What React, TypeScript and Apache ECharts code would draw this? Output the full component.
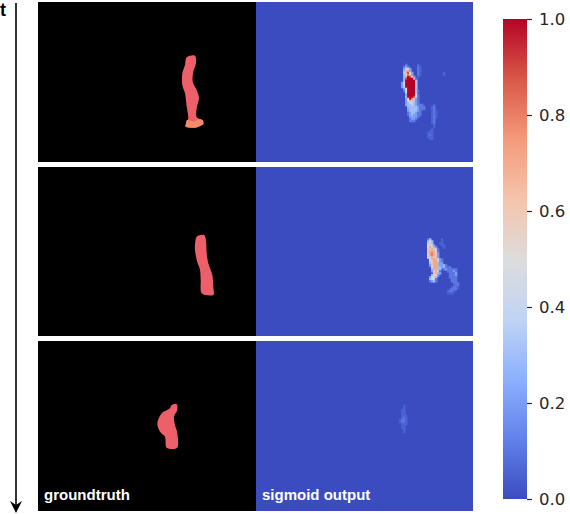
import React, { useEffect, useRef } from "react";
import * as echarts from "echarts";

const coolwarmStops = ["#3b4cc0", "#6282ea", "#8db0fe", "#c0d4f5", "#dddcdc", "#f5c4ac", "#f49a7b", "#d95847", "#b40426"];
const tickLabelFont = "DejaVu Sans";
const panelHeights = [160, 169, 170];
const panelTops = [2, 167, 341];
const panelWidth = 217;

const truthShape1 = [[157,53.7],[148.7,55.3],[147,63],[144.3,71.3],[144.3,83],[147,91.3],[148.7,104.7],[150.3,116.3],[148,121.3],[147.7,124.7],[157,125.7],[165.3,122],[164.3,118],[158.7,115.3],[158.7,106],[161,96.3],[158.7,88],[154.7,79.7],[155.3,69.7],[158,61.3]];
const truthFoot1 = [[149,118],[156,119.5],[160,117.5],[164.3,118],[165.3,122],[157,125.7],[147.7,124.7],[148,121.3]];
const truthShape2 = [[157,78],[158.7,69.7],[166,68],[168,73],[168.7,86.3],[170.3,96.3],[174.3,108],[175.3,119.7],[175.3,128],[163.7,126.3],[162.7,113],[162,103],[158.7,93],[157,83]];
const truthShape3 = [[133.7,64],[138.7,63.3],[139.3,69],[136,75.7],[137,84],[139.3,92],[139.3,106.7],[128.7,106.7],[127,95.7],[122,90.7],[119.3,82.3],[123.7,72.3],[132,67.3]];

// Sigmoid output cells: "." none, ":" 0.05, digits value*10, "a" 1.0
const sigmoid1 = { col: 71, row: 31, rows: [
  "....1.....:",
  "...121....1:",
  "...2442...1:",
  "...3772...1:",
  "...47952..1:...........:",
  "...36862..1:...........:",
  "...37a962.:",
  "...39aaa71",
  "...3aaaaa3",
  "..24aaaaa3",
  "..24aaaaa3",
  "..24aaaaa3",
  "...25aaaa3",
  "...15aaaa31",
  "....4aaaa3",
  "....2aaaa41",
  "....3aaa941",
  "....26a8521",
  "....2576321",
  "....2344321",
  "....233432111.....:",
  ".....333332111...:1",
  ".....233332111...:1",
  ".....2333321.....:1:",
  ".....1233211.....:1:",
  ".....1232211.....:1:",
  "......22221......:1:",
  "......1221.......:1",
  "......111........:1",
  ".................:1",
  "..................:",
  "..................:",
  ".................:",
  "................::",
  "...............:::",
  "...............:1:",
  "...............:::",
  "................::",
] };
const sigmoid2 = { col: 84, row: 36, rows: [
  "..13.....:",
  "..353....:",
  "..463...::",
  "..5642...::",
  "..57632...:",
  "..667641",
  "..677751",
  "..678762",
  "..578762",
  "..467662",
  "...5777521..",
  "...4677421",
  "...3677322",
  "...267732231",
  "....5773323111",
  "....37733.1211111",
  "....26741...11121",
  ".....6732....1112",
  "....3652.....1112",
  "...2563......1111",
  "...3441.......111",
  "...1231.......111",
  "...............111",
  "...............:11",
  "..............:11:",
  ".............:111",
  "............:11:",
  "............:::",
] };
const sigmoid3 = { col: 71, row: 32, rows: [
  "...:",
  "...:",
  "..::",
  "..::",
  "..::",
  "..:::",
  "..:1:",
  ".:11:",
  ".:11:",
  "..:::",
  "..::",
  "..::",
  "...:",
  "...:",
] };
const sigmoidBlocks = [sigmoid1, sigmoid2, sigmoid3];

const colorbarTicks = [0, 0.2, 0.4, 0.6, 0.8, 1];

const toCells = (block: { col: number; row: number; rows: string[] }) => {
  const out: number[][] = [];
  block.rows.forEach((line, r) => {
    line.split("").forEach((ch, c) => {
      if (ch === "." || ch === " ") return;
      const value = ch === ":" ? 0.05 : ch === "a" ? 1 : Number(ch) / 10;
      out.push([block.col + c, block.row + r, value]);
    });
  });
  return out;
};

const polygonSeries = (points: number[][], color: string, axisIndex: number) => ({
  type: "custom",
  xAxisIndex: axisIndex,
  yAxisIndex: axisIndex,
  silent: true,
  data: points,
  encode: { x: 0, y: 1 },
  renderItem: (params: any, api: any) =>
    params.dataIndex === 0
      ? { type: "polygon", shape: { points: points.map((p) => api.coord(p)), smooth: 0.3 }, style: { fill: color } }
      : null,
});

const range = (n: number) => Array.from({ length: n }, (_, i) => String(i));

export default function App() {
  const ref = useRef<HTMLDivElement>(null);
  useEffect(() => {
    document.body.style.margin = "0";
    const chart = echarts.init(ref.current!, null, { renderer: "svg" });
    const grids: any[] = [];
    const xAxes: any[] = [];
    const yAxes: any[] = [];
    const series: any[] = [];
    const heatSeriesIndex: number[] = [];
    panelHeights.forEach((h, i) => {
      grids.push({ left: 38, top: panelTops[i], width: 218, height: h, show: true, backgroundColor: "#000000", borderWidth: 0 });
      xAxes.push({ type: "value", gridIndex: grids.length - 1, min: 0, max: 218, show: false });
      yAxes.push({ type: "value", gridIndex: grids.length - 1, min: 0, max: h, inverse: true, show: false });
      grids.push({ left: 256, top: panelTops[i], width: panelWidth, height: h, show: true, backgroundColor: "#3b4cc0", borderWidth: 0 });
      xAxes.push({ type: "category", gridIndex: grids.length - 1, data: range(109), show: false });
      yAxes.push({ type: "category", gridIndex: grids.length - 1, data: range(Math.ceil(h / 2)), inverse: true, show: false });
    });
    series.push(polygonSeries(truthShape1, "#ee6069", 0));
    series.push(polygonSeries(truthFoot1, "#f58b69", 0));
    series.push(polygonSeries(truthShape2, "#ee6069", 2));
    series.push(polygonSeries(truthShape3, "#ee6069", 4));
    sigmoidBlocks.forEach((b, i) => {
      heatSeriesIndex.push(series.length);
      series.push({
        type: "heatmap",
        xAxisIndex: 2 * i + 1,
        yAxisIndex: 2 * i + 1,
        data: toCells(b),
        silent: true,
        progressive: 0,
        itemStyle: { borderWidth: 0 },
      });
    });
    grids.push({ left: 503, top: 19, width: 24, height: 480, show: false });
    xAxes.push({ type: "category", gridIndex: 6, data: ["scale"], show: false });
    yAxes.push({
      type: "value",
      gridIndex: 6,
      position: "right",
      min: 0,
      max: 1,
      interval: 0.2,
      splitLine: { show: false },
      axisLine: { show: false },
      axisTick: { show: true, length: 5, lineStyle: { color: "#262626", width: 1.2 } },
      axisLabel: {
        margin: 12,
        fontFamily: tickLabelFont,
        fontSize: 16.5,
        color: "#262626",
        customValues: colorbarTicks,
        formatter: (v: number) => v.toFixed(1),
      },
    });
    series.push({
      type: "bar",
      xAxisIndex: 6,
      yAxisIndex: 6,
      barWidth: "100%",
      silent: true,
      data: [1],
      itemStyle: {
        color: new echarts.graphic.LinearGradient(
          0, 1, 0, 0,
          coolwarmStops.map((c, i) => ({ offset: i / (coolwarmStops.length - 1), color: c }))
        ),
      },
    });
    chart.setOption({
      animation: false,
      grid: grids,
      xAxis: xAxes,
      yAxis: yAxes,
      series,
      visualMap: {
        show: false,
        type: "continuous",
        min: 0,
        max: 1,
        dimension: 2,
        seriesIndex: heatSeriesIndex,
        inRange: { color: coolwarmStops },
      },
      graphic: [
        { type: "line", shape: { x1: 16, y1: 3, x2: 16, y2: 505 }, style: { stroke: "#000", lineWidth: 1.6 } },
        { type: "polygon", shape: { points: [[10, 501], [16, 505], [22, 501], [16, 513]] }, style: { fill: "#000" } },
        { type: "text", x: 0, y: 1, style: { text: "t", fill: "#000", font: "bold 18px 'Liberation Sans'" } },
        { type: "text", x: 44, y: 487, style: { text: "groundtruth", fill: "#fff", font: "bold 15px 'Liberation Sans'" } },
        { type: "text", x: 262, y: 487, style: { text: "sigmoid output", fill: "#fff", font: "bold 15px 'Liberation Sans'" } },
      ],
    });
    return () => chart.dispose();
  }, []);
  return <div ref={ref} style={{ width: 570, height: 514 }} />;
}
